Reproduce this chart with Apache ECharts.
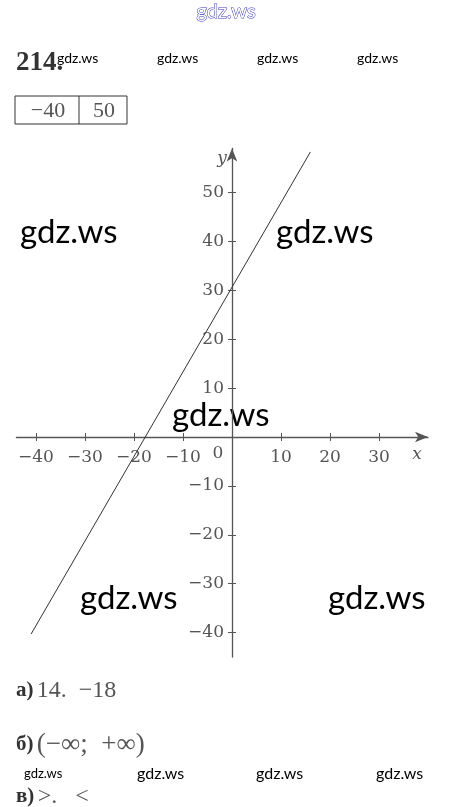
<!DOCTYPE html>
<html><head><meta charset="utf-8">
<script src="https://cdn.jsdelivr.net/npm/echarts@6/dist/echarts.min.js"></script>
<style>html,body{margin:0;padding:0;background:#fff}#c{width:452px;height:807px}</style>
</head><body><div id="c"></div>
<script>
const xTicks = [-40, -30, -20, -10, 10, 20, 30];
const yTicks = [-40, -30, -20, -10, 10, 20, 30, 40, 50];
const lineX = [-41, 16];
const lineY = [-40.3, 58.3];
const tableValues = ['−40', '50'];
const problemNumber = '214.';
const answerA = ['а)', '14.  −18'];
const answerB = ['б)', '(−∞;  +∞)'];
const answerC = ['в)', '>.   <'];

const minus = v => String(v).replace('-', '−');
const serif = 'DejaVu Serif';
const grey = '#555';

// grid geometry (pixels)
const G = {left: 16.4, right: 24, top: 148.5, bottom: 150};
const xMin = -44, xMax = 40, yMin = -45, yMax = 59;
const gw = 452 - G.left - G.right, gh = 807 - G.top - G.bottom;
// shift axes from the grid edges to the zero lines
const xAxisOffset = -(gh * (0 - yMin) / (yMax - yMin));
const yAxisOffset = -(gw * (0 - xMin) / (xMax - xMin));

const wm = (text, x, y, size) => ({type: 'text', x, y, style: {text, font: size + 'px Lato', fill: '#000', textVerticalAlign: 'middle'}});

const xBase = {type: 'value', min: xMin, max: xMax, position: 'bottom', offset: xAxisOffset, splitLine: {show: false}};
const yBase = {type: 'value', min: yMin, max: yMax, position: 'left', offset: yAxisOffset, splitLine: {show: false}};

const chart = echarts.init(document.getElementById('c'), null, {renderer: 'canvas'});
chart.setOption({
  backgroundColor: '#fff',
  animation: false,
  grid: Object.assign({containLabel: false, outerBoundsMode: 'none'}, G),
  xAxis: [
    Object.assign({}, xBase, {
      axisLine: {onZero: false, symbol: ['none', 'arrow'], symbolSize: [8, 13], lineStyle: {color: grey, width: 1.3}},
      axisTick: {show: true, length: 4, customValues: xTicks, lineStyle: {color: grey}},
      axisLabel: {customValues: xTicks, formatter: minus, margin: 12, fontFamily: serif, fontSize: 17, color: grey, hideOverlap: false}
    }),
    Object.assign({}, xBase, {
      axisLine: {show: false, onZero: false},
      axisTick: {show: true, inside: true, length: 4, customValues: xTicks, lineStyle: {color: grey}},
      axisLabel: {show: false}
    })
  ],
  yAxis: [
    Object.assign({}, yBase, {
      axisLine: {onZero: false, symbol: ['none', 'arrow'], symbolSize: [8, 13], lineStyle: {color: grey, width: 1.3}},
      axisTick: {show: true, length: 4, customValues: yTicks, lineStyle: {color: grey}},
      axisLabel: {customValues: yTicks, formatter: minus, margin: 8, fontFamily: serif, fontSize: 17, color: grey, hideOverlap: false}
    }),
    Object.assign({}, yBase, {
      axisLine: {show: false, onZero: false},
      axisTick: {show: true, inside: true, length: 4, customValues: yTicks, lineStyle: {color: grey}},
      axisLabel: {show: false}
    })
  ],
  series: [{
    type: 'line', xAxisIndex: 0, yAxisIndex: 0, data: lineX.map((x, i) => [x, lineY[i]]),
    showSymbol: false, lineStyle: {color: '#333', width: 1}
  }],
  graphic: [
    {type: 'text', x: 226, y: 12, style: {text: 'gdz.ws', font: '20px Lato', fill: '#fff', stroke: '#3333cc', lineWidth: 1, textAlign: 'center', textVerticalAlign: 'middle'}},
    {type: 'text', x: 16, y: 63, style: {text: problemNumber, font: 'bold 27px "Liberation Serif"', fill: '#333', textVerticalAlign: 'middle'}},
    wm('gdz.ws', 57, 58, 14), wm('gdz.ws', 157, 58, 14), wm('gdz.ws', 257, 58, 14), wm('gdz.ws', 357, 58, 14),
    {type: 'rect', shape: {x: 15, y: 96, width: 112, height: 28}, style: {fill: 'none', stroke: '#333', lineWidth: 1}},
    {type: 'line', shape: {x1: 79, y1: 96, x2: 79, y2: 124}, style: {stroke: '#333', lineWidth: 1}},
    {type: 'text', x: 48, y: 111, style: {text: tableValues[0], font: '22px "Liberation Serif"', fill: grey, textAlign: 'center', textVerticalAlign: 'middle'}},
    {type: 'text', x: 104, y: 111, style: {text: tableValues[1], font: '22px "Liberation Serif"', fill: grey, textAlign: 'center', textVerticalAlign: 'middle'}},
    {type: 'text', x: 222, y: 159, style: {text: 'y', font: 'italic 17px ' + serif, fill: grey, textAlign: 'center', textVerticalAlign: 'middle'}},
    {type: 'text', x: 417, y: 455, style: {text: 'x', font: 'italic 17px ' + serif, fill: grey, textAlign: 'center', textVerticalAlign: 'middle'}},
    {type: 'text', x: 218, y: 454, style: {text: '0', font: '17px ' + serif, fill: grey, textAlign: 'center', textVerticalAlign: 'middle'}},
    wm('gdz.ws', 20, 232, 33), wm('gdz.ws', 276, 232, 33), wm('gdz.ws', 172, 415, 33),
    wm('gdz.ws', 80, 598, 33), wm('gdz.ws', 328, 598, 33),
    {type: 'text', x: 16, y: 691, style: {rich: {b: {font: 'bold 21px "Liberation Serif"', fill: '#333'}, n: {font: '24px "Liberation Serif"', fill: grey}}, text: '{b|' + answerA[0] + '} {n|' + answerA[1] + '}', textVerticalAlign: 'middle'}},
    {type: 'text', x: 16, y: 745, style: {rich: {b: {font: 'bold 21px "Liberation Serif"', fill: '#333'}, n: {font: '27px "Liberation Serif"', fill: grey}}, text: '{b|' + answerB[0] + '} {n|' + answerB[1] + '}', textVerticalAlign: 'middle'}},
    wm('gdz.ws', 24, 774, 13), wm('gdz.ws', 137, 774, 16), wm('gdz.ws', 256, 774, 16), wm('gdz.ws', 376, 774, 16),
    {type: 'text', x: 16, y: 797, style: {rich: {b: {font: 'bold 21px "Liberation Serif"', fill: '#333'}, n: {font: '24px "Liberation Serif"', fill: grey}}, text: '{b|' + answerC[0] + '} {n|' + answerC[1] + '}', textVerticalAlign: 'middle'}}
  ]
});
</script></body></html>
